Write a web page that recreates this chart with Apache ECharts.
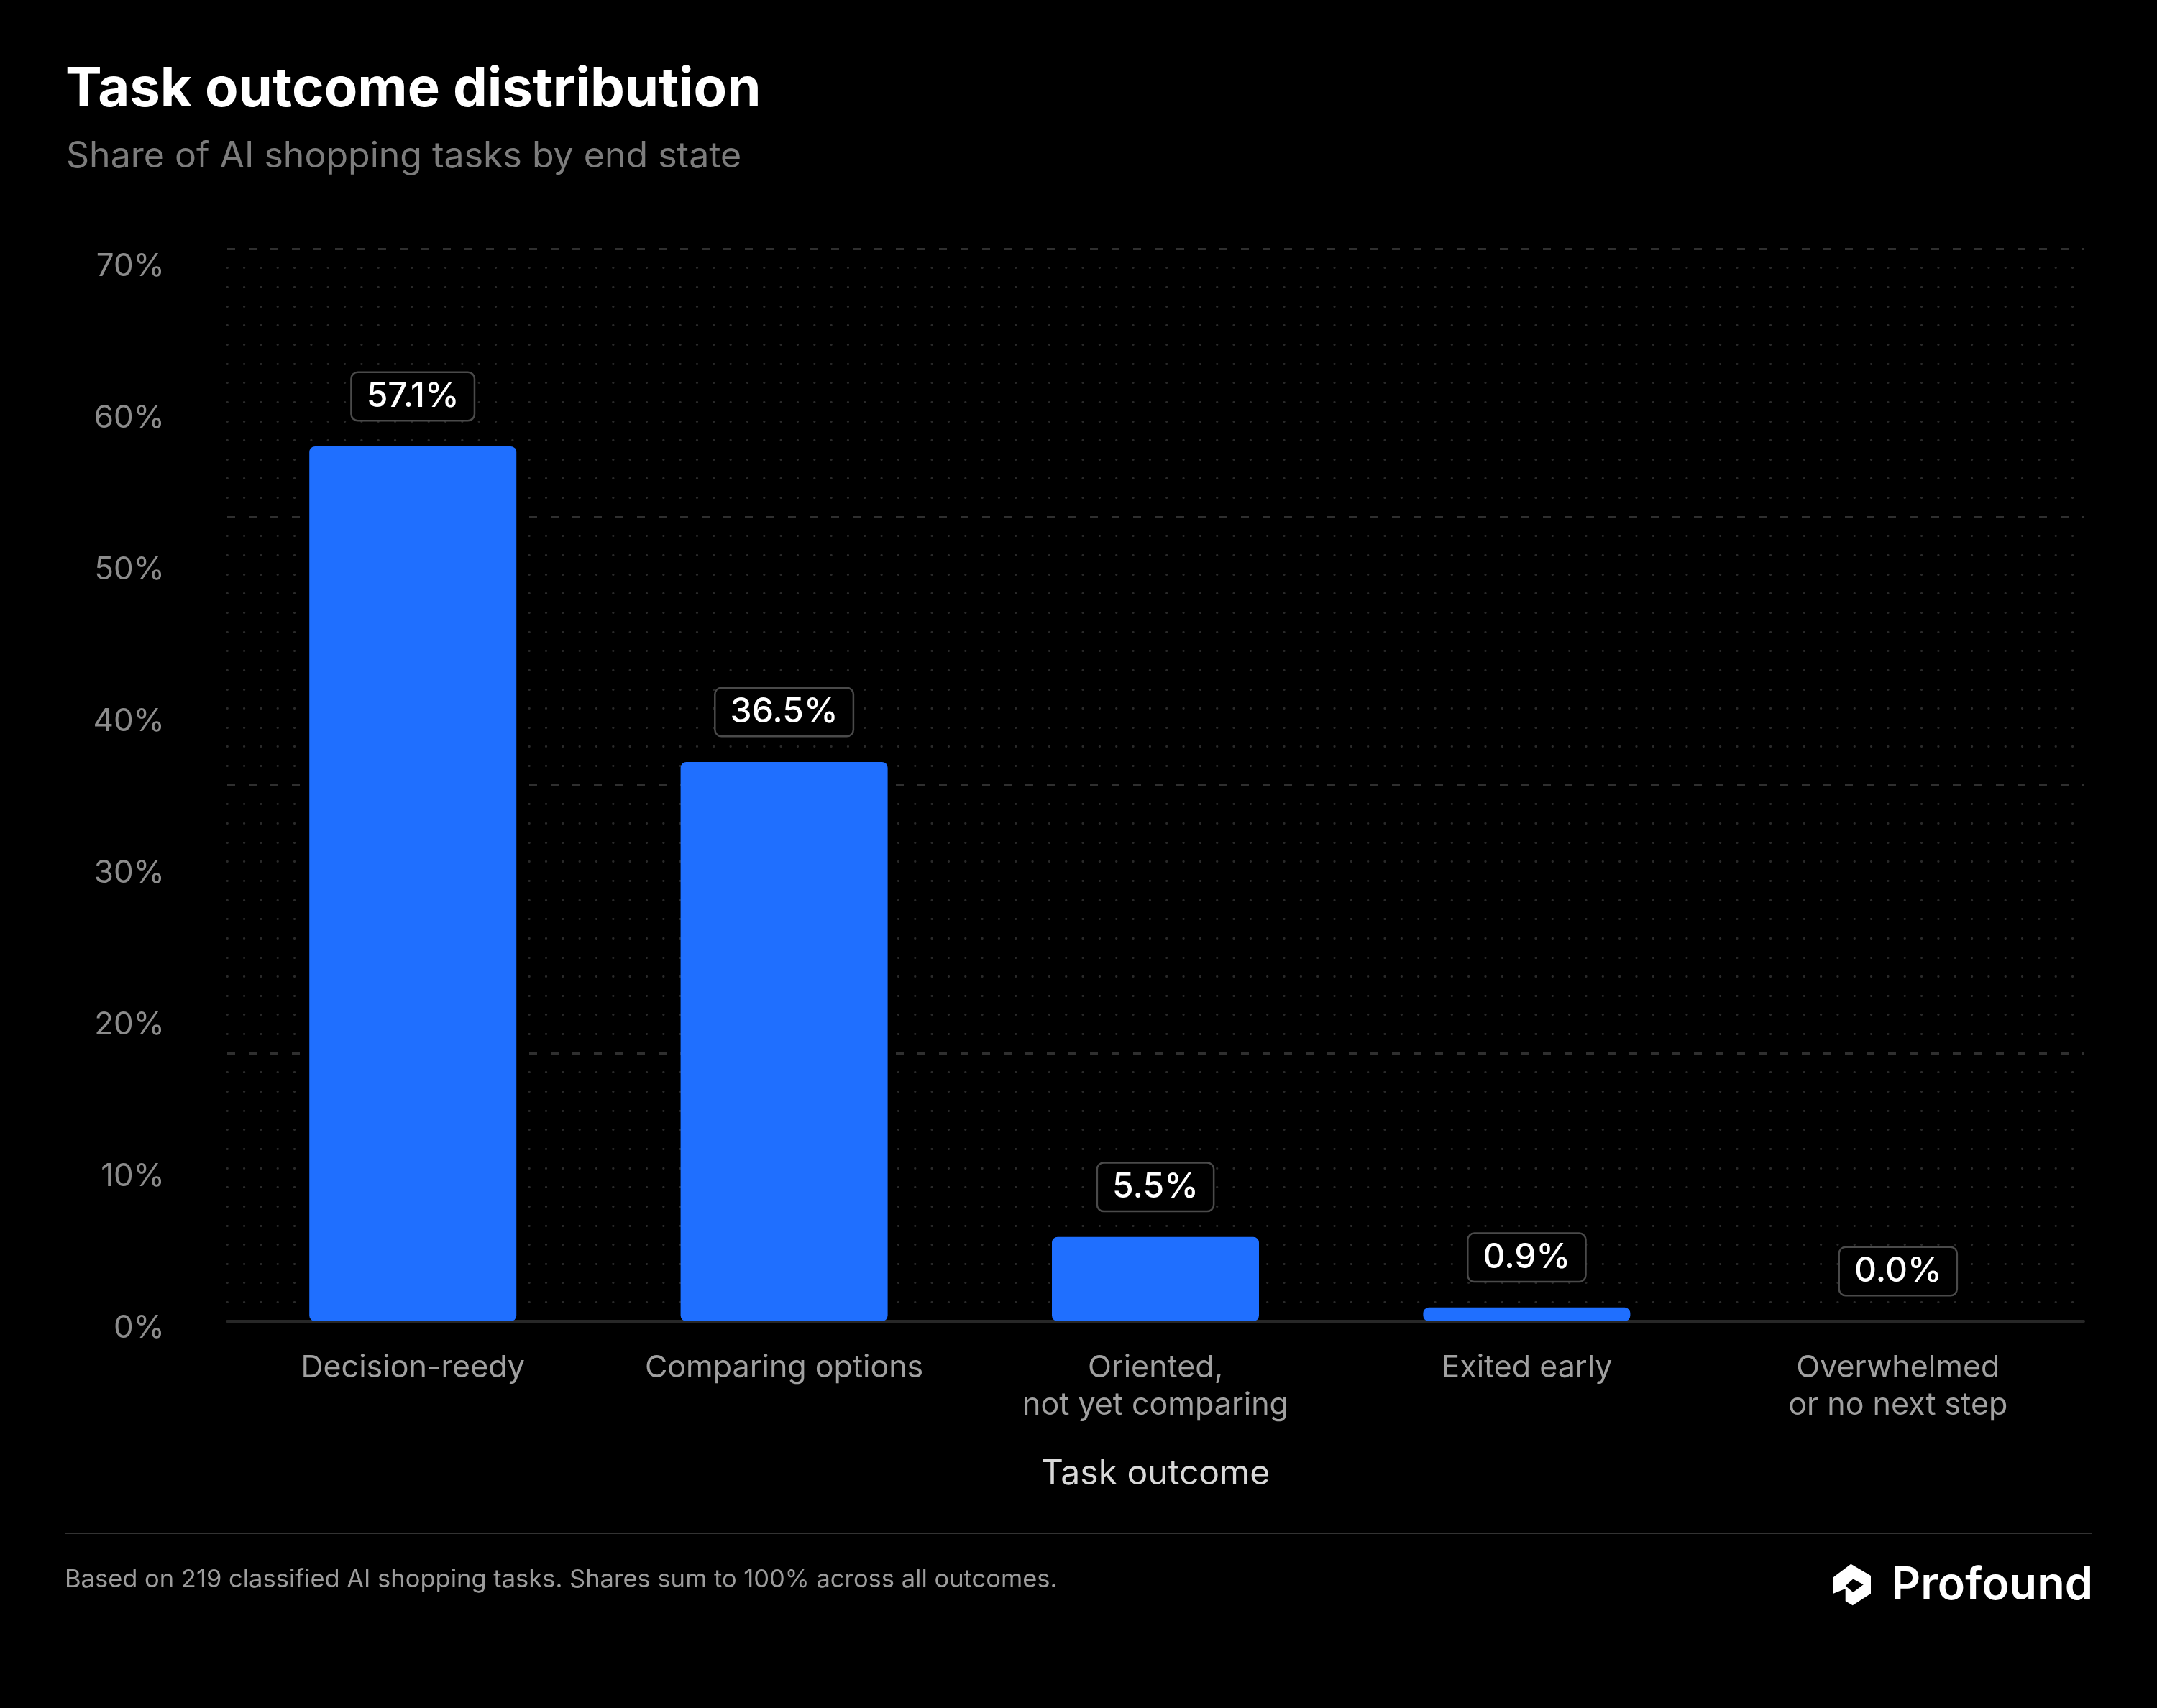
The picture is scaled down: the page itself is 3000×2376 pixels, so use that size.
<!DOCTYPE html>
<html>
<head>
<meta charset="utf-8">
<script src="https://cdn.jsdelivr.net/npm/echarts@6/dist/echarts.min.js"></script>
<style>
html,body{margin:0;padding:0;background:#000;}
#chart{width:3000px;height:2376px;}
</style>
</head>
<body>
<div id="chart"></div>
<script>
const categories = ['Decision-reedy', 'Comparing options', 'Oriented,\nnot yet comparing', 'Exited early', 'Overwhelmed\nor no next step'];
const shares = [57.1, 36.5, 5.5, 0.9, 0.0];
const yTickValues = [0, 10, 20, 30, 40, 50, 60, 70];

const titleText = 'Task outcome distribution';
const subtitleText = 'Share of AI shopping tasks by end state';
const axisNameText = 'Task outcome';
const footerText = 'Based on 219 classified AI shopping tasks. Shares sum to 100% across all outcomes.';
const brandText = 'Profound';

const FONT = 'Inter';
const chart = echarts.init(document.getElementById('chart'), null, {renderer: 'canvas'});

const option = {
  backgroundColor: '#000000',
  animation: false,
  title: [
    {text: titleText, left: 86, top: 82,
     textStyle: {fontFamily: FONT, fontWeight: 700, fontSize: 76, color: '#ffffff', lineHeight: 76}},
    {text: subtitleText, left: 87, top: 188,
     textStyle: {fontFamily: FONT, fontWeight: 400, fontSize: 50, color: '#7c7c7c', lineHeight: 50}}
  ],
  grid: [
    {left: 316, right: 102, top: 346, bottom: 538, containLabel: false},
    {left: 316, right: 102, top: 371, bottom: 528, containLabel: false}
  ],
  xAxis: [
    {type: 'category', gridIndex: 0, data: categories,
     axisTick: {show: false},
     axisLine: {show: true, lineStyle: {color: '#272727', width: 4}},
     axisLabel: {color: '#a0a0a0', fontFamily: FONT, fontSize: 43, lineHeight: 52, margin: 39, interval: 0},
     name: axisNameText, nameLocation: 'middle', nameGap: 189,
     nameTextStyle: {color: '#d8d8d8', fontFamily: FONT, fontSize: 48}
    },
    {type: 'category', gridIndex: 1, data: categories, show: false}
  ],
  yAxis: [
    {type: 'value', gridIndex: 0, min: 0, max: 70, interval: 17.5,
     axisLabel: {show: false}, axisLine: {show: false}, axisTick: {show: false},
     splitLine: {show: true, lineStyle: {color: '#2f2f2f', width: 3, type: [11, 19]}},
     minorTick: {show: false, splitNumber: 14},
     minorSplitLine: {show: true, lineStyle: {color: '#2a2a2a', width: 2.8, type: [0.5, 22.83], cap: 'round'}}
    },
    {type: 'value', gridIndex: 1, min: 0, max: 70, interval: 10,
     axisLine: {show: false}, axisTick: {show: false}, splitLine: {show: false},
     axisLabel: {color: '#8c8c8c', fontFamily: FONT, fontSize: 44, margin: 87,
       formatter: function (v) { return yTickValues.indexOf(v) >= 0 ? v + '%' : ''; }}
    }
  ],
  series: [{
    type: 'bar', xAxisIndex: 0, yAxisIndex: 0,
    data: shares,
    barWidth: 288,
    itemStyle: {color: '#1f6fff', borderRadius: 8},
    label: {
      show: true, position: 'top', distance: 37,
      formatter: function (p) { return p.value.toFixed(1) + '%'; },
      color: '#ffffff', fontFamily: FONT, fontWeight: 500, fontSize: 48, lineHeight: 48,
      backgroundColor: '#000000', borderColor: '#4a4a4a', borderWidth: 2.5, borderRadius: 8,
      padding: [9, 20, 8, 20]
    }
  }],
  graphic: [
    {type: 'line', shape: {x1: 90, y1: 2133, x2: 2910, y2: 2133}, style: {stroke: '#333333', lineWidth: 2}},
    {type: 'text', x: 90, y: 2198,
     style: {text: footerText, fill: '#9c9c9c', font: '400 34.5px Inter', textAlign: 'left', textVerticalAlign: 'middle'}},
    {type: 'text', x: 2911, y: 2206,
     style: {text: brandText, fill: '#ffffff', font: '600 63px Inter', textAlign: 'right', textVerticalAlign: 'middle'}},
    {type: 'polygon', x: 2540, y: 2170,
     shape: {points: [[34.3, 5.7], [62, 22], [62, 46.7], [36.7, 63.3], [26.7, 57.3], [26.7, 40], [10, 46.7], [10, 24]]},
     style: {fill: '#ffffff'}},
    {type: 'polygon', x: 2540, y: 2170, z: 101,
     shape: {points: [[26.7, 36], [37.3, 26.5], [51.7, 34.3], [37.3, 45]]},
     style: {fill: '#000000'}}
  ]
};
chart.setOption(option);
</script>
</body>
</html>
